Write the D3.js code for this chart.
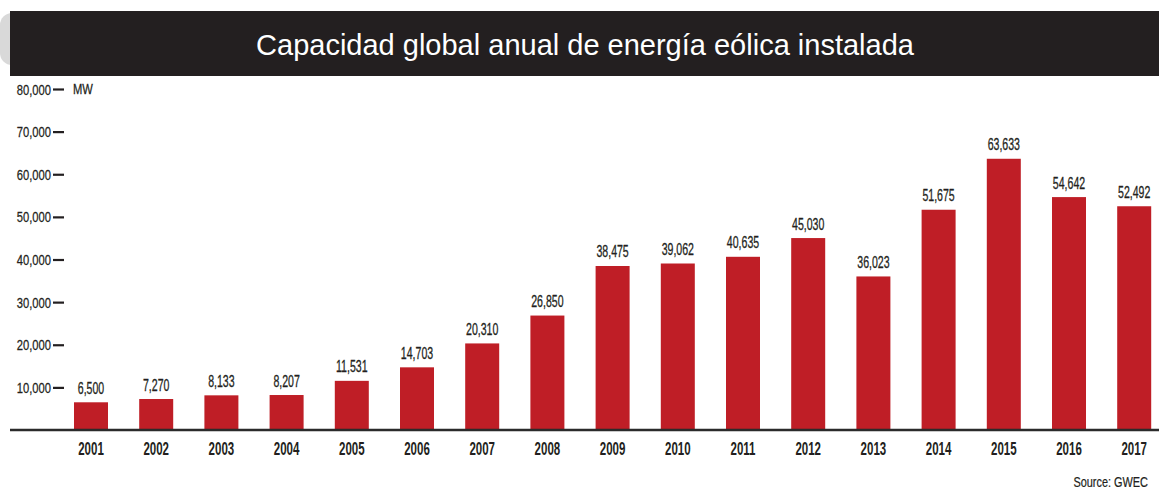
<!DOCTYPE html>
<html>
<head>
<meta charset="utf-8">
<script src="https://cdn.jsdelivr.net/npm/d3@7"></script>
<style>
  html, body { margin: 0; padding: 0; background: #fff; }
  svg { display: block; }
  text { font-family: "Liberation Sans", Arial, sans-serif; }
</style>
</head>
<body>
<svg id="chart" width="1159" height="490"></svg>
<script>
// Annual installed wind capacity, MW
const years = ["2001","2002","2003","2004","2005","2006","2007","2008","2009","2010","2011","2012","2013","2014","2015","2016","2017"];
const capacity = [6500, 7270, 8133, 8207, 11531, 14703, 20310, 26850, 38475, 39062, 40635, 45030, 36023, 51675, 63633, 54642, 52492];
const yTicks = [10000, 20000, 30000, 40000, 50000, 60000, 70000, 80000];
const title = "Capacidad global anual de energía eólica instalada";
const source = "Source: GWEC";

const svg = d3.select("#chart");
const fmt = d3.format(",");

// Narrow the lettering horizontally (condensed look) while keeping its anchor in place
function squeeze(sel, k) {
  sel.each(function () {
    const t = d3.select(this);
    const x0 = +t.attr("x") || 0;
    t.attr("x", x0 / k).attr("transform", `scale(${k},1)`);
  });
}

// Title banner
svg.append("rect").attr("x", 0).attr("y", 13).attr("width", 30).attr("height", 52)
  .attr("rx", 12).attr("fill", "#d9d9d9");
svg.append("rect").attr("x", 10).attr("y", 11).attr("width", 1149).attr("height", 65)
  .attr("fill", "#231f20");
svg.append("text").attr("x", 585).attr("y", 55)
  .attr("text-anchor", "middle")
  .attr("fill", "#fff")
  .style("font-size", "29px")
  .text(title);

// Scales
const step = 65.2;
const x = d3.scaleBand()
  .domain(years)
  .range([91 - step / 2, 91 - step / 2 + step * years.length])
  .paddingInner(1 - 34 / step)
  .paddingOuter((1 - 34 / step) / 2);

const y = d3.scaleLinear().domain([0, 80000]).range([430, 89]);

// Y axis: labels with a short dash to their right, no axis line
const yAxis = d3.axisLeft(y)
  .tickValues(yTicks)
  .tickSize(11)
  .tickPadding(2)
  .tickFormat(fmt);

const yg = svg.append("g")
  .attr("transform", "translate(64,0)")
  .call(yAxis);
yg.select(".domain").remove();
yg.selectAll(".tick line").attr("stroke", "#231f20").attr("stroke-width", 2.2);
yg.selectAll(".tick text")
  .attr("fill", "#231f20")
  .attr("stroke", "#231f20").attr("stroke-width", 0.25)
  .attr("dy", "0.36em")
  .style("font-size", "14px")
  .style("font-family", "'Liberation Sans', Arial, sans-serif")
  .call(squeeze, 0.8);

// Unit label next to the top tick
svg.append("text")
  .attr("x", 73).attr("y", y(80000) + 5)
  .attr("fill", "#231f20")
  .attr("stroke", "#231f20").attr("stroke-width", 0.25)
  .style("font-size", "14px")
  .text("MW")
  .call(squeeze, 0.8);

// Bars
svg.append("g").selectAll("rect")
  .data(years)
  .join("rect")
  .attr("x", d => x(d))
  .attr("width", x.bandwidth())
  .attr("y", (d, i) => y(capacity[i]))
  .attr("height", (d, i) => y(0) - y(capacity[i]))
  .attr("fill", "#bf1e26");

// Value labels
svg.append("g").selectAll("text")
  .data(years)
  .join("text")
  .attr("x", d => x(d) + x.bandwidth() / 2)
  .attr("y", (d, i) => y(capacity[i]) - 8.5)
  .attr("text-anchor", "middle")
  .attr("fill", "#231f20")
  .attr("stroke", "#231f20").attr("stroke-width", 0.3)
  .style("font-size", "16.5px")
  .text((d, i) => fmt(capacity[i]))
  .call(squeeze, 0.64);

// Baseline
svg.append("line")
  .attr("x1", 10).attr("x2", 1159)
  .attr("y1", y(0)).attr("y2", y(0))
  .attr("stroke", "#2b2b2b").attr("stroke-width", 2.5);

// X axis labels
const xAxis = d3.axisBottom(x).tickSize(0).tickPadding(12);
const xg = svg.append("g")
  .attr("transform", `translate(0,${y(0)})`)
  .call(xAxis);
xg.select(".domain").remove();
xg.selectAll(".tick text")
  .attr("fill", "#231f20")
  .style("font-size", "18px")
  .style("font-weight", "bold")
  .style("font-family", "'Liberation Sans', Arial, sans-serif")
  .call(squeeze, 0.64);

// Source note
svg.append("text")
  .attr("x", 1148).attr("y", 487)
  .attr("text-anchor", "end")
  .attr("fill", "#231f20")
  .attr("stroke", "#231f20").attr("stroke-width", 0.2)
  .style("font-size", "14px")
  .text(source)
  .call(squeeze, 0.78);
</script>
</body>
</html>
